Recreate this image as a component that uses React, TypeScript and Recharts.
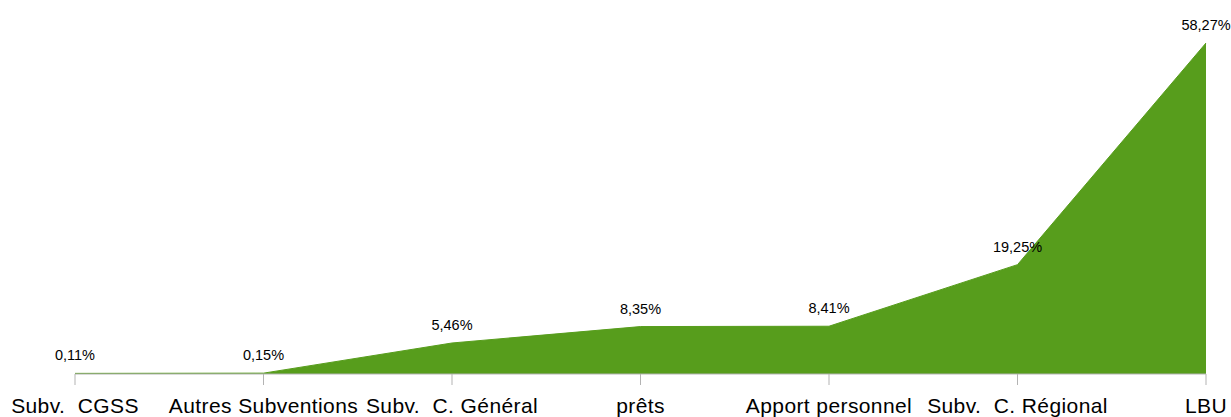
import { Area, AreaChart, LabelList, XAxis, YAxis } from "recharts";

const CATEGORIES = ["Subv.  CGSS", "Autres Subventions", "Subv.  C. Général", "prêts", "Apport personnel", "Subv.  C. Régional", "LBU"];
const SHARES = [0.11, 0.15, 5.46, 8.35, 8.41, 19.25, 58.27];

const GREEN = "#579d1c";
const AXIS_GREY = "#b3b3b3";
const FONT = "'Liberation Sans', Arial, sans-serif";

const data = CATEGORIES.map((name, i) => ({ name, share: SHARES[i] }));

function formatShare(v: number) {
  return v.toFixed(2).replace(".", ",") + "%";
}

function CategoryTick(props: any) {
  const { x, payload } = props;
  return (
    <text
      x={x}
      y={413}
      textAnchor="middle"
      fontFamily={FONT}
      fontSize={21}
      letterSpacing={0.4}
      fill="#000"
      style={{ whiteSpace: "pre" }}
    >
      {payload.value}
    </text>
  );
}

function ShareLabel(props: any) {
  const { x, y, value } = props;
  return (
    <text x={x} y={y - 13} textAnchor="middle" fontFamily={FONT} fontSize={14.5} fill="#000">
      {formatShare(value)}
    </text>
  );
}

export default function App() {
  return (
    <div style={{ width: 1231, height: 417 }}>
      <style>{"body{margin:0}"}</style>
      <AreaChart width={1231} height={417} data={data} margin={{ top: 43, right: 25, left: 75, bottom: 0 }}>
        <XAxis
          dataKey="name"
          height={43}
          interval={0}
          tickSize={11}
          stroke={AXIS_GREY}
          tickLine={{ stroke: AXIS_GREY }}
          axisLine={{ stroke: AXIS_GREY }}
          tick={<CategoryTick />}
        />
        <YAxis hide domain={[0, "dataMax"]} width={0} />
        <Area
          type="linear"
          dataKey="share"
          stroke={GREEN}
          strokeWidth={1}
          fill={GREEN}
          fillOpacity={1}
          isAnimationActive={false}
          dot={false}
          activeDot={false}
        >
          <LabelList dataKey="share" content={<ShareLabel />} />
        </Area>
      </AreaChart>
    </div>
  );
}
